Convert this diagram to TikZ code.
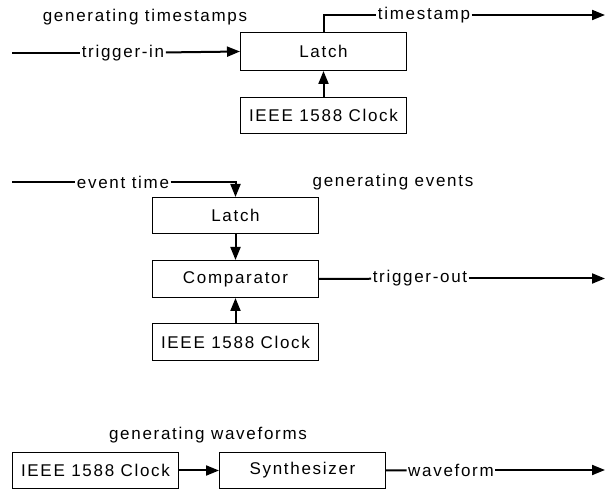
\documentclass[tikz,border=0pt]{standalone}
\usepackage{fontspec}
\setmainfont{Liberation Sans}[LetterSpace=10]
\usetikzlibrary{arrows.meta}
\begin{document}
\begin{tikzpicture}[x=1pt,y=-1pt,
  font=\fontsize{17}{20}\selectfont,
  block/.style={draw,line width=1pt,minimum width=166pt,minimum height=37pt,inner sep=0pt,anchor=north west},
  sig/.style={line width=2pt},
  tip/.style={sig,-{Triangle[length=13pt,width=10pt]}},
  lbl/.style={inner xsep=1.5pt,inner ysep=0pt},
  title/.style={inner sep=0pt}]
\useasboundingbox (0,0) rectangle (606,489);

% timestamp generation
\node[block,minimum height=38pt] (latchA) at (240,32) {Latch};
\node[block,minimum height=36pt] (clockA) at (240,97) {IEEE 1588 Clock};
\node[title] (tA) at (145,17) {generating timestamps};
\coordinate (inA) at (12,53);
\node[lbl] (trigin) at (123,53) {trigger-in};
\draw[sig] (inA) -- (trigin);
\draw[tip] (trigin) -- (latchA.west);
\coordinate (bendA) at (latchA.north |- 0,15);
\node[lbl] (tstamp) at (424,15) {timestamp};
\coordinate (outA) at (605,15);
\draw[sig] (latchA.north) -- (bendA) -- (tstamp);
\draw[tip] (tstamp) -- (outA);
\draw[tip] (clockA.north) -- (latchA.south);

% event generation
\node[block,minimum height=36pt] (latchB) at (152,197) {Latch};
\node[block] (comp) at (152,260) {Comparator};
\node[block] (clockB) at (152,323) {IEEE 1588 Clock};
\node[title] (tB) at (393,182) {generating events};
\coordinate (inB) at (12,182);
\node[lbl] (evt) at (123,182) {event time};
\coordinate (bendB) at (latchB.north |- inB);
\draw[sig] (inB) -- (evt);
\draw[tip] (evt) -- (bendB) -- (latchB.north);
\draw[tip] (latchB.south) -- (comp.north);
\draw[tip] (clockB.north) -- (comp.south);
\node[lbl] (trigout) at (420,278.5) {trigger-out};
\coordinate (outB) at (605,278.5);
\draw[sig] (comp.east) -- (trigout);
\draw[tip] (trigout) -- (outB);

% waveform generation
\node[block,minimum height=36pt] (clockC) at (12,452) {IEEE 1588 Clock};
\node[block,minimum height=36pt] (synth) at (219,452) {Synthesizer};
\node[title] (tC) at (208,435) {generating waveforms};
\draw[tip] (clockC.east) -- (synth.west);
\node[lbl] (wave) at (451,470) {waveform};
\coordinate (outC) at (605,470);
\draw[sig] (synth.east) -- (wave);
\draw[tip] (wave) -- (outC);
\end{tikzpicture}
\end{document}
